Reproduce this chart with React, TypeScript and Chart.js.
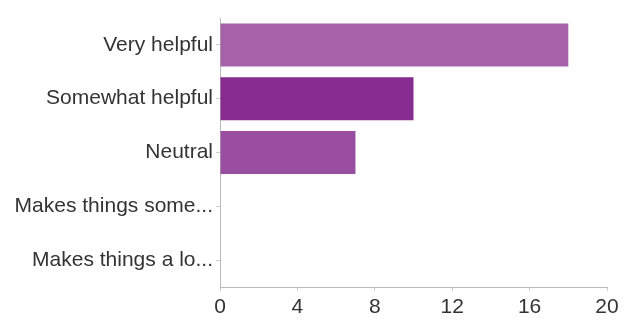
import React, { useEffect, useRef } from "react";
import { Chart, registerables } from "chart.js";

Chart.register(...registerables);

const categories = [
  "Very helpful",
  "Somewhat helpful",
  "Neutral",
  "Makes things some...",
  "Makes things a lo...",
];
const responses = [18, 10, 7, 0, 0];
const barColors = ["#a662a8", "#862b8f", "#9a4ea0", "#9a4ea0", "#9a4ea0"];
const xTicks = [0, 4, 8, 12, 16, 20];

export default function App() {
  const ref = useRef<HTMLCanvasElement>(null);

  useEffect(() => {
    if (!ref.current) return;
    const font = { family: "'Liberation Sans', Arial, Helvetica, sans-serif", size: 21 };
    const chart = new Chart(ref.current, {
      type: "bar",
      data: {
        labels: categories,
        datasets: [
          {
            data: responses,
            backgroundColor: barColors,
            borderWidth: 0,
            barPercentage: 0.8,
            categoryPercentage: 1,
          },
        ],
      },
      options: {
        indexAxis: "y",
        animation: false,
        responsive: false,
        layout: { padding: { top: 18, right: 17, left: 0, bottom: 0 } },
        plugins: { legend: { display: false }, tooltip: { enabled: false } },
        scales: {
          x: {
            min: 0,
            max: 20,
            afterBuildTicks: (scale: any) => {
              scale.ticks = xTicks.map((v) => ({ value: v }));
            },
            afterFit: (scale: any) => {
              scale.height = 33;
            },
            grid: {
              drawOnChartArea: false,
              drawTicks: true,
              tickLength: 4,
              color: "#cccccc",
            },
            border: { display: true, color: "#bbbbbb", width: 1 },
            ticks: { color: "#333333", font, padding: 4, maxRotation: 0 },
          },
          y: {
            afterFit: (scale: any) => {
              scale.width = 220;
            },
            grid: {
              drawOnChartArea: false,
              drawTicks: true,
              tickLength: 4,
              color: "#cccccc",
              offset: false,
            },
            border: { display: true, color: "#bbbbbb", width: 1 },
            ticks: { color: "#333333", font, padding: 3, autoSkip: false },
          },
        },
      },
    });
    return () => chart.destroy();
  }, []);

  return (
    <div style={{ position: "fixed", left: 0, top: 0, width: 624, height: 320, background: "#fff" }}>
      <canvas ref={ref} width={624} height={320} style={{ width: 624, height: 320 }} />
    </div>
  );
}
